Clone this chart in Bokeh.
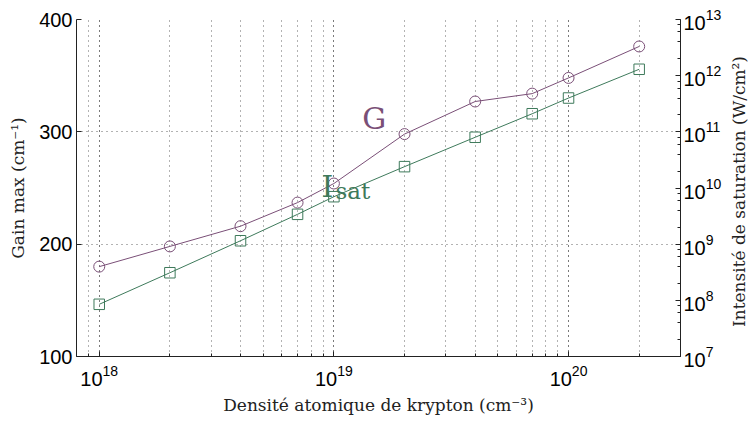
from bokeh.plotting import figure
from bokeh.layouts import row
from bokeh.models import (Range1d, LogAxis, LogScale, FixedTicker, LogTicker,
                          Label, ColumnDataSource, Div)
from bokeh.embed import file_html
from bokeh.resources import INLINE

# ---- data ----
density = [1e18, 2e18, 4e18, 7e18, 1e19, 2e19, 4e19, 7e19, 1e20, 2e20]
gain = [180, 198, 216, 237, 254, 298, 327, 334, 348, 376]
isat = [8.5e7, 3.1e8, 1.15e9, 3.4e9, 7e9, 2.4e10, 8e10, 2.1e11, 4e11, 1.3e12]
gain_ticks = [100, 200, 300, 400]

PURPLE = "#7a4f77"
GREEN = "#3e7a5b"
AXIS = "#222222"
GRID = "#666666"
SERIF = "DejaVu Serif"

src = ColumnDataSource(dict(x=density, g=gain, i=isat))

p = figure(width=724, height=423, x_axis_type="log",
           x_range=Range1d(8e17, 3e20), y_range=Range1d(100, 400),
           output_backend="svg", toolbar_location=None,
           min_border_left=76, min_border_right=41,
           min_border_top=19, min_border_bottom=67)
p.extra_y_ranges = {"isat": Range1d(1e7, 1e13)}
p.extra_y_scales = {"isat": LogScale()}
p.outline_line_color = None
p.background_fill_color = "white"
p.border_fill_color = "white"

# grids
p.xgrid.grid_line_color = GRID
p.xgrid.grid_line_dash = "1 4"
p.xgrid.minor_grid_line_color = GRID
p.xgrid.minor_grid_line_dash = "1 4"
p.ygrid.grid_line_color = GRID
p.ygrid.grid_line_dash = "1 4"
p.yaxis.ticker = FixedTicker(ticks=gain_ticks, minor_ticks=[])

right = LogAxis(y_range_name="isat", ticker=LogTicker(desired_num_ticks=7))
p.add_layout(right, "right")

for ax in [p.xaxis[0], p.yaxis[0], right]:
    ax.axis_line_color = AXIS
    ax.axis_line_width = 1
    ax.major_tick_line_color = AXIS
    ax.minor_tick_line_color = AXIS
    ax.major_tick_in = 5
    ax.major_tick_out = 0
    ax.minor_tick_in = 3
    ax.minor_tick_out = 0
    ax.major_label_text_font = "Liberation Sans"
    ax.major_label_text_font_size = "20px"
    ax.major_label_text_color = "black"
    ax.axis_label_text_font = SERIF
    ax.axis_label_text_font_size = "17px"
    ax.axis_label_text_font_style = "normal"
    ax.axis_label_text_color = "#222222"

p.yaxis[0].major_label_standoff = 4
p.yaxis[0].axis_label_standoff = 8
p.xaxis[0].major_label_standoff = 8
p.xaxis[0].axis_label_standoff = 6
right.major_label_standoff = 3

p.xaxis[0].axis_label = "Densité atomique de krypton (cm⁻³)"
p.yaxis[0].axis_label = "Gain max (cm⁻¹)"

# series
p.line("x", "g", source=src, color=PURPLE, line_width=1)
p.scatter("x", "g", source=src, marker="circle", size=11, fill_color=None,
          line_color=PURPLE, line_width=1)
p.line("x", "i", source=src, color=GREEN, line_width=1, y_range_name="isat")
p.scatter("x", "i", source=src, marker="square", size=10.5, fill_color=None,
          line_color=GREEN, line_width=1, y_range_name="isat")

# in-plot labels
p.add_layout(Label(x=1.32e19, y=312, text="G", text_color=PURPLE,
                   text_font=SERIF, text_font_size="30px",
                   text_baseline="alphabetic"))
p.add_layout(Label(x=8.85e18, y=251, text="I", text_color=GREEN,
                   text_font=SERIF, text_font_size="30px",
                   text_baseline="alphabetic"))
p.add_layout(Label(x=8.85e18, y=251, x_offset=14, y_offset=-4, text="sat",
                   text_color=GREEN, text_font=SERIF,
                   text_font_size="23px", text_baseline="alphabetic"))

# right-hand axis title, reading bottom to top as in the reference
RIGHT_TITLE = "Intensité de saturation (W/cm²)"
side = Div(
    text=('<div style="writing-mode: vertical-rl; transform: rotate(180deg); '
          'height: 336px; margin-top: 19px; text-align: center; '
          'white-space: nowrap; font-family: \'DejaVu Serif\'; '
          'font-size: 17px; line-height: 20px; color: #222222;">'
          + RIGHT_TITLE + '</div>'),
    width=22, height=423)

layout = row(p, side)

open("out.html", "w").write(file_html(layout, INLINE))
